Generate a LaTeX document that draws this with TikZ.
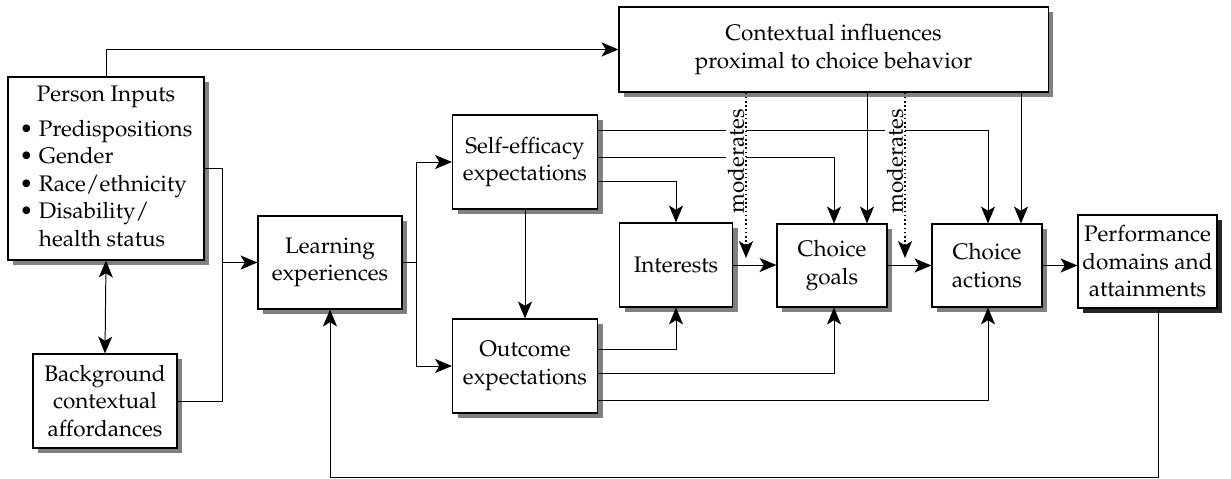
\documentclass[tikz,border=0pt]{standalone}
\usepackage[T1]{fontenc}
\usepackage{mathpazo}
\usetikzlibrary{arrows.meta,shadows,calc}

\begin{document}
\begin{tikzpicture}[x=0.025cm,y=-0.025cm,
  font=\fontsize{16}{19.5}\selectfont,
  boxbase/.style={draw,line width=0.8pt,fill=white,align=center,inner sep=2pt},
  box/.style={boxbase,drop shadow={shadow xshift=0.13cm,shadow yshift=-0.13cm,fill=black!50,opacity=1}},
  perfbox/.style={boxbase,drop shadow={shadow xshift=0.13cm,shadow yshift=-0.13cm,fill=black!85,opacity=1}},
  conn/.style={line width=0.7pt},
  arr/.style={conn,-{Stealth[length=12pt,width=10pt,inset=3pt]}},
  arrboth/.style={conn,{Stealth[length=12pt,width=10pt,inset=3pt]}-{Stealth[length=12pt,width=10pt,inset=3pt]}},
  modarrow/.style={conn,line width=1.1pt,dash pattern=on 1.1pt off 1.9pt,-{Stealth[length=12pt,width=10pt,inset=3pt]}},
  modtext/.style={rotate=90,fill=white,inner sep=1.5pt}]
\useasboundingbox (0,0) rectangle (1231,479);

% boxes
\node[box,minimum width=4.9cm,minimum height=4.575cm] (pin) at (106,168.5)
  {\begin{tabular}{@{}l@{}}\multicolumn{1}{@{}c@{}}{Person Inputs}\\[5pt]
   \textbullet\ Predispositions\\
   \textbullet\ Gender\\
   \textbullet\ Race/ethnicity\\
   \textbullet\ Disability/\\
   \phantom{\textbullet\ }health status\end{tabular}};
\node[box,minimum width=3.6cm,minimum height=2.35cm] (bg) at (105,401) {Background\\contextual\\affordances};
\node[box,minimum width=3.6cm,minimum height=2.325cm] (learn) at (330,262.5) {Learning\\experiences};
\node[box,minimum width=3.625cm,minimum height=2.35cm] (self) at (525,162) {Self-efficacy\\expectations};
\node[box,minimum width=3.625cm,minimum height=2.35cm] (outc) at (525,366) {Outcome\\expectations};
\node[box,minimum width=2.825cm,minimum height=2.1cm] (intr) at (676,265) {Interests};
\node[box,minimum width=2.75cm,minimum height=2.075cm] (goals) at (832,265.5) {Choice\\goals};
\node[box,minimum width=2.75cm,minimum height=2.075cm] (acts) at (987,265.5) {Choice\\actions};
\node[perfbox,minimum width=3.475cm,minimum height=2.325cm] (perf) at (1147.5,261.5) {Performance\\domains and\\attainments};
\node[box,minimum width=10.725cm,minimum height=2.125cm] (ctx) at (833.5,49.5) {Contextual influences\\proximal to choice behavior};

% person inputs and background
\draw[arr] (pin.north) |- (ctx.west);
\draw[arrboth] (pin.south) -- (bg.north);
\coordinate (jn) at (222,262.5);
\draw[conn] (pin.east) -| (jn);
\draw[conn] (bg.east) -| (jn);
\draw[arr] (jn) -- (learn.west);

% learning experiences
\coordinate (sp) at (416,262.5);
\draw[conn] (learn.east) -- (sp);
\draw[arr] (sp) |- (self.west);
\draw[arr] (sp) |- (outc.west);
\draw[arr] (self.south) -- (outc.north);

% expectations
\draw[arr] ($(self.east)+(0,19)$) -| (intr.north);
\draw[arr] ($(outc.east)+(0,-17)$) -| (intr.south);
\draw[arr] ($(self.east)+(0,-5)$) -| ($(goals.north)+(2,0)$);
\draw[arr] ($(self.east)+(0,-32)$) -| ($(acts.north)+(1,0)$);
\draw[arr] ($(outc.east)+(0,7)$) -| ($(goals.south)+(2,0)$);
\draw[arr] ($(outc.east)+(0,34)$) -| ($(acts.south)+(1,0)$);

% contextual influences
\coordinate (gin) at ($(goals.north)+(35,0)$);
\coordinate (ain) at ($(acts.north)+(34,0)$);
\draw[arr] (ctx.south -| gin) -- (gin);
\draw[arr] (ctx.south -| ain) -- (ain);

% main chain
\draw[arr] (intr.east) -- (intr.east -| goals.west);
\draw[arr] (goals.east) -- (acts.west);
\draw[arr] (acts.east) -- (acts.east -| perf.west);

% feedback
\coordinate (fb) at (330,477);
\draw[arr] ($(perf.south)+(11,0)$) |- (fb) -- (learn.south);

% moderates
\node[modtext] (mod1) at (736,161) {moderates};
\node[modtext] (mod2) at (895,161) {moderates};
\coordinate (m1) at (746,258);
\coordinate (m2) at (905,258);
\draw[modarrow] (ctx.south -| m1) -- (m1);
\draw[modarrow] (ctx.south -| m2) -- (m2);
\end{tikzpicture}
\end{document}
